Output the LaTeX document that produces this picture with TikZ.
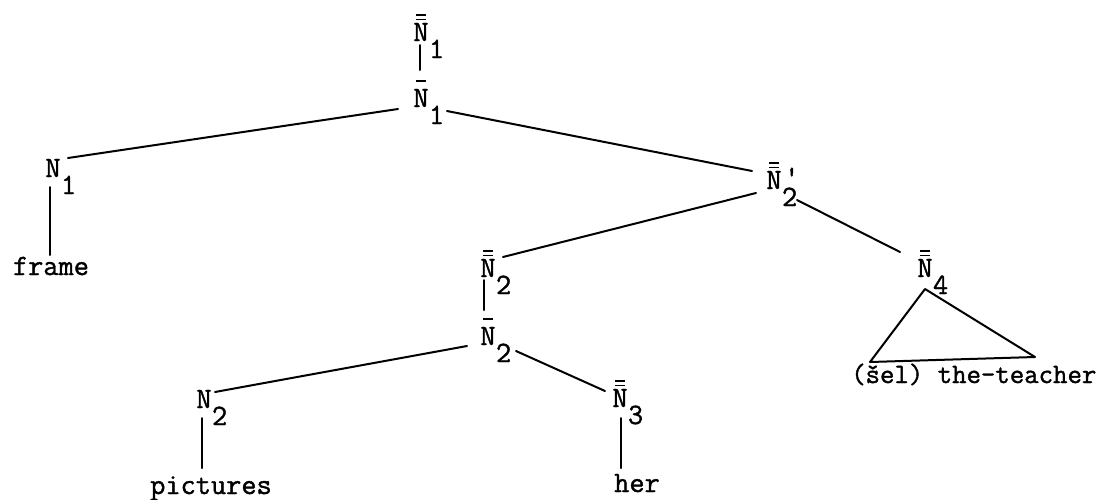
\documentclass[tikz,border=0pt]{standalone}
\usepackage{fontspec}
\newfontfamily\twfont[FakeBold=1.3]{Latin Modern Mono}
\newcommand\lf{\twfont\fontsize{29.5pt}{32pt}\selectfont}
\newcommand\selfont{\twfont\fontsize{28pt}{32pt}\selectfont}
\newcommand\mklab[5]{%
  \node[lab] (#1) at (#2,#3) {N};
  \node[sublab] (#1s) at (#2+7.8,#3+17) {#5};
  \ifnum#4>0 \draw[bar] (#2-5,#3-26) -- (#2+5,#3-26);\fi
  \ifnum#4>1 \draw[bar] (#2-5,#3-21.5) -- (#2+5,#3-21.5);\fi
}
\tikzset{
  lab/.style={inner sep=0pt, anchor=base, font=\lf},
  sublab/.style={inner sep=0pt, anchor=base west, font=\lf},
  word/.style={inner sep=0pt, anchor=base, font=\lf},
  edge/.style={line width=2pt, line cap=round},
  bar/.style={line width=1.4pt}
}
\begin{document}
\begin{tikzpicture}[x=1pt,y=-1pt]
\useasboundingbox (0,0) rectangle (1103,499);
% labels
\mklab{T}{421}{41}{2}{1}
\mklab{A}{421}{107}{1}{1}
\mklab{B}{53}{177}{0}{1}
\mklab{C}{774}{189}{2}{2}
\node[sublab] (Cp) at (784,186) {'};
\mklab{D}{488}{277}{2}{2}
\mklab{E}{925}{277}{2}{4}
\mklab{F}{488}{345}{1}{2}
\mklab{G}{204}{408}{0}{2}
\mklab{H}{620}{407}{2}{3}
% leaves
\node[word] (frame) at (51,275) {frame};
\node[word] (pictures) at (211,494) {pictures};
\node[word] (her) at (637,492) {her};
\node[inner sep=0pt, anchor=base west, font=\selfont] (sel) at (851,383) {(šel) the-teacher};
% connectors
\draw[edge] ([shift={(-1,4)}]T.base) -- ([shift={(-1,-37)}]A.base);
\draw[edge] ([shift={(-23,2)}]A.base) -- ([shift={(15,-19)}]B.base);
\draw[edge] ([shift={(26,4)}]A.base) -- ([shift={(-22,-18)}]C.base);
\draw[edge] ([shift={(-3,10)}]B.base) -- ([shift={(-1,-20)}]frame.base);
\draw[edge] ([shift={(-18,4)}]C.base) -- ([shift={(15,-20)}]D.base);
\draw[edge] ([shift={(23,11)}]C.base) -- ([shift={(-25,-25)}]E.base);
\draw[edge] ([shift={(-4,3)}]D.base) -- ([shift={(-4,-35)}]F.base);
\draw[edge] ([shift={(-21,1)}]F.base) -- ([shift={(11,-16)}]G.base);
\draw[edge] ([shift={(28,6)}]F.base) -- ([shift={(-15,-16)}]H.base);
\draw[edge] ([shift={(-2,10)}]G.base) -- ([shift={(-9,-26)}]pictures.base);
\draw[edge] ([shift={(1,11)}]H.base) -- ([shift={(-16,-24)}]her.base);
\draw[edge, line join=round] ([shift={(0,12)}]E.base) -- ([shift={(19,-21)}]sel.base west) -- ([shift={(184,-26)}]sel.base west) -- cycle;
\end{tikzpicture}
\end{document}
